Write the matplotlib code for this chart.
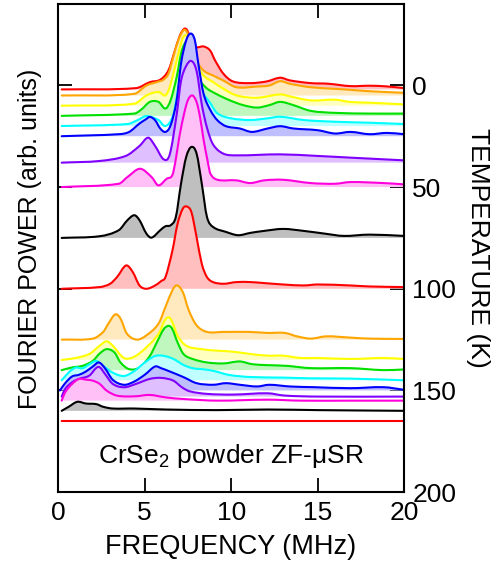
import numpy as np
import matplotlib
matplotlib.use("Agg")
import matplotlib.pyplot as plt
from matplotlib.colors import to_rgb
from matplotlib.path import Path
from matplotlib.patches import PathPatch

plt.rcParams['font.family'] = ['Liberation Sans', 'DejaVu Sans']
plt.rcParams['mathtext.fontset'] = 'custom'
plt.rcParams['mathtext.rm'] = 'Liberation Sans'
plt.rcParams['mathtext.it'] = 'Liberation Sans:italic'

# temperatures (K) of each spectrum, top to bottom
temps = [2, 5, 10, 15, 20, 25, 38, 50, 75, 100, 125, 135, 140, 145, 150, 153, 155, 160, 165]
colors = ['#ff0000', '#ffa500', '#ffff00', '#00e000', '#00ffff', '#0000ff', '#8000ff', '#ff00dd', '#000000',
          '#ff0000', '#ffa500', '#ffff00', '#00e000', '#00ffff', '#0000ff', '#8000ff', '#ff00dd', '#000000', '#ff0000']

# spectra: frequency (MHz) and fourier power (arb. units)
f_02 = [0.2, 4.5, 5.3, 5.9, 6.37, 6.75, 7.04, 7.29, 7.46, 7.72, 8.0, 8.4, 8.78, 9.07, 9.55, 10.1, 11.1, 12.06, 12.83, 13.4, 14.6, 15.6, 16.9, 18.0, 19.0, 20.0]
p_02 = [0, 1.3, 7.3, 9.7, 19, 39, 54, 60.7, 59, 47.3, 42.3, 43, 39, 29, 15.7, 8, 6.3, 8, 11.7, 9, 6.3, 5.7, 3.3, 3.7, 3, 1.3]

f_05 = [0.2, 4.4, 5.1, 5.8, 6.07, 6.37, 6.65, 6.94, 7.23, 7.43, 7.72, 8.0, 8.4, 8.95, 9.55, 10.3, 11.5, 12.2, 12.83, 13.4, 14.6, 16.0, 16.9, 18.0, 20.0]
p_05 = [0, 1.7, 10, 14, 15.7, 21.7, 38.3, 55, 65, 64, 50, 35, 25, 20, 15, 8.3, 9, 10, 14.3, 11.7, 8.3, 6.7, 5.7, 4.3, 2.7]

f_10 = [0.2, 4.4, 5.1, 5.8, 6.2, 6.45, 6.75, 7.04, 7.23, 7.4, 7.72, 8.0, 8.4, 8.95, 9.55, 10.3, 11.5, 12.83, 13.4, 14.6, 16.0, 16.9, 18.0, 20.0]
p_10 = [0, 2, 10.3, 13.7, 10.3, 18.7, 38.7, 58.7, 68.7, 70.3, 62, 42, 30.3, 23.7, 17, 10.3, 8, 11.3, 9.3, 5.3, 6, 3.7, 3, 1.3]

f_15 = [0.2, 4.4, 4.8, 5.3, 5.8, 6.2, 6.5, 6.85, 7.1, 7.3, 7.6, 8.0, 8.5, 9.1, 9.9, 10.7, 11.5, 12.2, 12.83, 13.6, 14.6, 16.0, 18.0, 20.0]
p_15 = [0, 2.3, 6.3, 14, 14, 7.3, 15.7, 39, 62.3, 72, 75, 42.3, 29, 22.3, 15.7, 10.7, 8.3, 10.7, 14, 10.7, 5, 3, 2.3, 2.3]

f_20 = [0.2, 4.0, 4.6, 5.1, 5.8, 6.2, 6.65, 6.95, 7.15, 7.6, 8.2, 8.8, 9.2, 10.0, 11.1, 12.1, 12.83, 14.2, 16.0, 18.0, 20.0]
p_20 = [0, 2, 6, 10, 6, 0, 11, 39, 62.7, 80, 39.3, 22.7, 12.7, 7.7, 6, 7.7, 9.3, 6, 4.3, 3.3, 2]

f_25 = [0.2, 3.5, 4.1, 4.7, 5.05, 5.3, 5.6, 5.9, 6.2, 6.5, 6.85, 7.1, 7.4, 7.66, 7.9, 8.1, 8.4, 8.8, 9.2, 9.7, 10.5, 11.2, 12.1, 12.83, 13.6, 15.0, 16.0, 16.9, 18.0, 19.0, 20.0]
p_25 = [0, 2, 4.3, 12.7, 16.7, 19.3, 16, 7.7, 4.3, 11, 36, 72.7, 96, 102.7, 96, 72.7, 42.7, 26, 16, 10, 7.7, 4.3, 7.7, 10, 7.7, 6, 2.7, 4.3, 2, 3.3, 2]

f_38 = [0.2, 2.4, 3.9, 4.7, 5.2, 5.6, 6.1, 6.45, 6.85, 7.1, 7.4, 7.7, 8.0, 8.3, 8.6, 8.95, 9.55, 10.3, 12.83, 15.0, 16.9, 20.0]
p_38 = [0, 1.7, 6.7, 16.7, 25, 16.7, 3.3, 8.3, 48.3, 81.7, 96.7, 101.7, 91.7, 58.3, 35, 18.3, 9, 7.3, 8.3, 6.7, 5, 2.3]

f_50 = [0.2, 3.5, 4.0, 4.73, 5.4, 5.79, 6.27, 6.6, 6.8, 7.0, 7.3, 7.5, 7.75, 8.0, 8.2, 8.4, 8.65, 8.8, 9.2, 10.3, 11.1, 11.9, 13.0, 14.6, 16.0, 16.9, 18.8, 20.0]
p_50 = [0, 3.3, 10, 18.3, 10, 1.7, 8.3, 12, 28, 50, 75, 87, 91.7, 85, 70, 48, 25, 13.3, 7.3, 6.7, 4, 6.7, 7.3, 4, 3.3, 5, 4, 2.7]

f_75 = [0.2, 2.4, 3.5, 4.0, 4.4, 4.7, 5.1, 5.4, 5.9, 6.2, 6.5, 6.8, 7.1, 7.4, 7.7, 8.0, 8.3, 8.6, 8.95, 9.7, 10.4, 11.1, 11.9, 13.0, 14.2, 15.4, 16.5, 18.0, 20.0]
p_75 = [0, 1.7, 7.7, 17.7, 22.7, 17.7, 4.3, 0.3, 7.7, 11.7, 12.7, 21, 54.3, 81, 91, 84.3, 54.3, 21, 11, 6, 2.7, 5, 7, 9, 7, 4.3, 2, 3.3, 2]

f_100 = [0.2, 2.4, 3.0, 3.4, 3.92, 4.3, 4.7, 5.1, 5.6, 5.95, 6.2, 6.6, 6.9, 7.2, 7.43, 7.7, 8.0, 8.3, 8.6, 8.95, 9.55, 10.3, 11.1, 11.9, 13.0, 14.2, 15.0, 16.9, 18.0, 20.0]
p_100 = [0, 1.7, 5, 11.7, 23.3, 17, 3.3, 0, 3.3, 7.7, 11.7, 38, 65, 80, 82.3, 76.7, 51.7, 25, 11.7, 6.7, 5, 6.7, 6.7, 5.7, 4.3, 3.3, 4.3, 3.3, 2.3, 1.7]

f_125 = [0.2, 2.0, 2.6, 2.9, 3.3, 3.6, 3.97, 4.55, 5.1, 5.8, 6.2, 6.6, 6.85, 7.2, 7.55, 8.0, 8.6, 9.55, 11.1, 12.1, 13.1, 13.8, 14.6, 15.5, 16.9, 18.0, 20.0]
p_125 = [0, 1, 7.7, 16, 25.3, 21, 6, 0, 4.3, 16, 32.7, 49.3, 54.3, 47.7, 29.3, 14.3, 7.7, 7.7, 7.7, 6.7, 6.7, 3.3, 1, 3.3, 2, 1, 0.7]

f_135 = [0.2, 1.0, 1.8, 2.4, 2.8, 3.15, 3.8, 4.4, 5.1, 5.8, 6.15, 6.4, 6.6, 6.9, 7.4, 8.2, 9.2, 10.1, 11.1, 12.1, 13.0, 14.0, 15.0, 16.9, 18.8, 20.0]
p_135 = [0, 2, 6, 14.3, 18.7, 14.3, 2, 3.3, 12.7, 26, 39.3, 42.7, 37.7, 24.3, 14.3, 11, 9.3, 8.3, 6, 4.3, 4.3, 2, 2, 1, 2, 1]

f_140 = [0.2, 0.8, 1.4, 2.0, 2.4, 2.8, 3.25, 3.6, 4.1, 4.7, 5.3, 5.7, 6.1, 6.4, 6.6, 6.9, 7.25, 7.8, 8.6, 9.55, 10.5, 11.2, 12.1, 13.2, 14.6, 16.9, 18.8, 20.0]
p_140 = [0, 2.7, 4.3, 9.3, 16.7, 21, 17.7, 7.7, 1, 2.7, 14.3, 27.7, 41, 44.3, 41, 27.7, 16, 11, 7.7, 6.7, 8.7, 6, 5, 4.3, 2, 2, 0, 0.7]

f_145 = [0.2, 0.6, 1.0, 1.4, 1.8, 2.2, 2.6, 3.15, 3.8, 4.4, 5.0, 5.6, 6.15, 6.7, 7.25, 7.8, 8.4, 9.0, 9.9, 11.1, 13.0, 14.6, 16.9, 20.0]
p_145 = [0, 7.7, 12.7, 12, 16, 19.3, 14.3, 7.7, 4.3, 9.3, 17.7, 24.3, 24.3, 21, 15.3, 12, 11, 9.3, 5.3, 3.3, 2.7, 2, 1.7, 0]

f_150 = [0.1, 0.4, 0.8, 1.2, 1.6, 2.0, 2.35, 2.7, 3.15, 3.8, 4.4, 5.0, 5.6, 5.95, 6.45, 7.25, 8.0, 8.95, 9.7, 10.5, 11.5, 12.2, 13.4, 14.8, 16.9, 18.8, 20.0]
p_150 = [0, 7.3, 14, 15.7, 19, 24, 28, 22.3, 10.7, 5.7, 9, 15.7, 24, 22.3, 19, 13.3, 7.3, 5.7, 7.3, 5.7, 4, 5.7, 4, 3.3, 2.3, 3.3, 0.7]

f_153 = [0.2, 0.4, 0.8, 1.2, 1.8, 2.2, 2.4, 2.7, 3.15, 3.8, 4.5, 5.3, 5.95, 6.65, 7.15, 7.6, 8.6, 10.1, 12.1, 13.1, 15.0, 20.0]
p_153 = [0, 7.7, 14.3, 17.7, 21, 28.7, 29.3, 22.7, 12.7, 9.3, 12.7, 17.7, 18.7, 16, 9.3, 5.3, 2.7, 2, 3.3, 1, 0, 0]

f_155 = [0.2, 0.4, 0.8, 1.2, 1.6, 2.0, 2.4, 2.8, 3.4, 4.4, 5.3, 6.2, 7.2, 9.2, 12.1, 14.0, 16.9, 20.0]
p_155 = [0, 8.3, 16.7, 21.7, 21, 20, 16.7, 10, 5, 4.3, 5.7, 3.3, 1.7, 0, 1, 0, 0, 0]

f_160 = [0.2, 0.6, 1.1, 1.6, 2.2, 2.6, 3.15, 4.4, 6.2, 9.2, 12.1, 15.0, 20.0]
p_160 = [0, 4, 9, 7.3, 6.7, 4, 2.3, 2.3, 1.3, 0.7, 1.3, 0.7, 0]

f_165 = [0.2, 20.0]
p_165 = [0, 0]

freqs = [f_02, f_05, f_10, f_15, f_20, f_25, f_38, f_50, f_75, f_100,
         f_125, f_135, f_140, f_145, f_150, f_153, f_155, f_160, f_165]
powers = [p_02, p_05, p_10, p_15, p_20, p_25, p_38, p_50, p_75, p_100,
          p_125, p_135, p_140, p_145, p_150, p_153, p_155, p_160, p_165]

scale = 1 / 2.035  # power units -> kelvin offset


def smooth_path(x, y):
    # cubic hermite segments drawn as bezier curves through the points
    x = np.asarray(x, float)
    y = np.asarray(y, float)
    n = len(x)
    m = np.zeros(n)
    if n > 2:
        m[1:-1] = (y[2:] - y[:-2]) / (x[2:] - x[:-2])
    m[0] = (y[1] - y[0]) / (x[1] - x[0])
    m[-1] = (y[-1] - y[-2]) / (x[-1] - x[-2])
    verts = [(x[0], y[0])]
    codes = [Path.MOVETO]
    for i in range(n - 1):
        h = x[i + 1] - x[i]
        verts += [(x[i] + h / 3, y[i] + m[i] * h / 3),
                  (x[i + 1] - h / 3, y[i + 1] - m[i + 1] * h / 3),
                  (x[i + 1], y[i + 1])]
        codes += [Path.CURVE4] * 3
    return verts, codes


fig = plt.figure(figsize=(5.02, 5.69), dpi=100)
ax = fig.add_axes([0.116, 0.135, 0.689, 0.858])

for i, (T, f, p, c) in enumerate(zip(temps, freqs, powers, colors)):
    y = T - np.array(p) * scale
    verts, codes = smooth_path(f, y)
    light = tuple(0.75 + 0.25 * v for v in to_rgb(c))
    fv = verts + [(f[-1], T), (f[0], T), (f[0], y[0])]
    fc = codes + [Path.LINETO, Path.LINETO, Path.CLOSEPOLY]
    ax.add_patch(PathPatch(Path(fv, fc), facecolor=light, edgecolor='none', zorder=2 * i + 1))
    ax.add_patch(PathPatch(Path(verts, codes), facecolor='none', edgecolor=c, lw=1.5,
                           capstyle='round', joinstyle='round', zorder=2 * i + 2))

ax.set_xlim(0, 20)
ax.set_ylim(200, -40)
ax.set_xticks([0, 5, 10, 15, 20])
ax.set_yticks([0, 50, 100, 150, 200])
ax.tick_params(axis='both', direction='in', length=10, width=1.3, labelsize=19,
               top=True, bottom=True, left=True, right=True,
               labelleft=False, labelright=True, pad=6)
for s in ax.spines.values():
    s.set_linewidth(1.5)
    s.set_zorder(60)

ax.text(10, 182, 'CrSe$_2$ powder ZF-\u03bcSR', ha='center', va='center', fontsize=19, zorder=50)

fig.text(0.46, 0.038, 'FREQUENCY (MHz)', ha='center', va='center', fontsize=19.5)
fig.text(0.060, 0.58, 'FOURIER POWER (arb. units)', ha='center', va='center', rotation=90, fontsize=18)
fig.text(0.952, 0.565, 'TEMPERATURE (K)', ha='center', va='center', rotation=-90, fontsize=19)

fig.savefig('out.png', dpi=100)
